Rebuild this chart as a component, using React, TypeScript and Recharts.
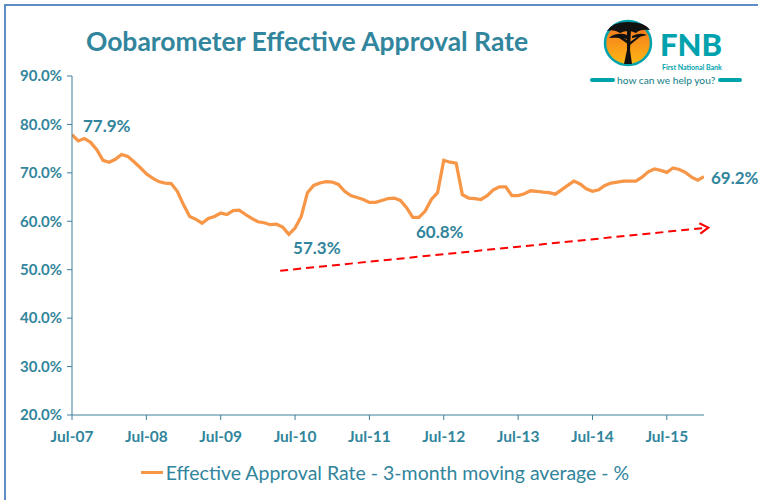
import React from 'react';
import { LineChart, Line, XAxis, YAxis, ReferenceLine, Legend, LabelList } from 'recharts';

const START_YEAR = 2007;
const START_MONTH = 6; // July, 0-based
const MONTH_NAMES = ['Jan', 'Feb', 'Mar', 'Apr', 'May', 'Jun', 'Jul', 'Aug', 'Sep', 'Oct', 'Nov', 'Dec'];

// Effective approval rate, 3-month moving average, %, Jul-07 .. Jan-16
const approvalRate = [
  77.9, 76.6, 77.1, 76.3, 74.8, 72.6, 72.2, 72.8, 73.8, 73.4, 72.3, 71.1,
  69.8, 68.9, 68.2, 67.9, 67.8, 66.2, 63.4, 61.0, 60.4, 59.6, 60.6, 61.0,
  61.7, 61.4, 62.2, 62.3, 61.4, 60.6, 59.9, 59.7, 59.3, 59.4, 58.8, 57.3,
  58.6, 61.0, 65.9, 67.4, 67.9, 68.2, 68.1, 67.6, 66.2, 65.3, 64.9, 64.5,
  63.9, 63.9, 64.3, 64.7, 64.8, 64.3, 62.8, 60.8, 60.8, 62.1, 64.5, 65.9,
  72.6, 72.2, 72.0, 65.5, 64.8, 64.7, 64.5, 65.3, 66.5, 67.1, 67.1, 65.3,
  65.3, 65.7, 66.3, 66.2, 66.0, 65.9, 65.6, 66.5, 67.4, 68.3, 67.7, 66.7,
  66.2, 66.5, 67.4, 67.9, 68.1, 68.3, 68.3, 68.3, 69.1, 70.2, 70.8, 70.5,
  70.1, 71.0, 70.7, 70.1, 69.1, 68.5, 69.2,
];

const months = approvalRate.map((_, i) => {
  const m = START_MONTH + i;
  const y = START_YEAR + Math.floor(m / 12);
  return `${MONTH_NAMES[m % 12]}-${String(y % 100).padStart(2, '0')}`;
});

const yTicks = [20, 30, 40, 50, 60, 70, 80, 90];
const xTickIndices = [0, 12, 24, 36, 48, 60, 72, 84, 96];
const labelledPoints = [0, 35, 55, 102];
const trendArrow = [{ x: 33.6, y: 49.8 }, { x: 102.7, y: 58.7 }];
const seriesName = 'Effective Approval Rate - 3-month moving average - %';
const title = 'Oobarometer Effective Approval Rate';

const data = approvalRate.map((v, i) => ({ idx: i, month: months[i], rate: v }));

const TEAL = '#31859C';
const AXIS = '#3F7F9A';
const ORANGE = '#F79646';
const LOGO_TEAL = '#00A3AD';
const FONT = 'Lato, "Noto Sans", sans-serif';

const labelStyle: Record<number, { dx: number; dy: number; anchor: 'start' | 'middle' }> = {
  0: { dx: 11, dy: -9, anchor: 'start' },
  35: { dx: 28, dy: 13, anchor: 'middle' },
  55: { dx: 27, dy: 14, anchor: 'middle' },
  102: { dx: 7, dy: 1, anchor: 'start' },
};

const PointLabel = (props: any) => {
  const { x, y, value, index } = props;
  if (!labelledPoints.includes(index)) return null;
  const s = labelStyle[index];
  return (
    <text
      x={x + s.dx}
      y={y + s.dy}
      textAnchor={s.anchor}
      dominantBaseline="central"
      fill={TEAL}
      fontFamily={FONT}
      fontWeight={700}
      fontSize={17}
    >
      {`${Number(value).toFixed(1)}%`}
    </text>
  );
};

const ArrowShape = (p: any) => {
  const { x1, y1, x2, y2 } = p;
  if ([x1, y1, x2, y2].some((v) => v == null || isNaN(v))) return null;
  const ang = Math.atan2(y2 - y1, x2 - x1);
  const L = 10;
  const a = 0.55;
  const ax = x2 - L * Math.cos(ang - a);
  const ay = y2 - L * Math.sin(ang - a);
  const bx = x2 - L * Math.cos(ang + a);
  const by = y2 - L * Math.sin(ang + a);
  return (
    <g>
      <line x1={x1} y1={y1} x2={x2} y2={y2} stroke="#FF0000" strokeWidth={2} strokeDasharray="8 5" />
      <polyline points={`${ax},${ay} ${x2},${y2} ${bx},${by}`} fill="none" stroke="#FF0000" strokeWidth={2} />
    </g>
  );
};

const LegendContent = () => (
  <div
    style={{
      display: 'flex',
      justifyContent: 'center',
      alignItems: 'center',
      height: 24,
      paddingLeft: 12,
      fontFamily: FONT,
      fontSize: 19.5,
      color: TEAL,
    }}
  >
    <span style={{ display: 'inline-block', width: 22, height: 3, background: ORANGE, marginRight: 3 }} />
    <span>{seriesName}</span>
  </div>
);

const Logo = () => (
  <svg width={170} height={95} style={{ position: 'absolute', left: 588, top: 0 }} viewBox="588 0 170 95">
    <defs>
      <linearGradient id="sun" x1="0" y1="0" x2="0" y2="1">
        <stop offset="0%" stopColor="#F37021" />
        <stop offset="100%" stopColor="#FDB913" />
      </linearGradient>
    </defs>
    <ellipse cx={628} cy={43} rx={23} ry={22} fill="url(#sun)" stroke={LOGO_TEAL} strokeWidth={2.5} />
    <path d="M607 31 Q612 22 628 22 Q645 22 650 30 Q640 29 636 33 Q628 29 620 33 Q614 29 607 31 Z" fill="#111" />
    <path d="M609 38 Q614 33 624 34 Q630 35 627 39 Q618 37 609 38 Z" fill="#111" />
    <path d="M632 36 Q640 32 647 35 Q640 37 632 38 Z" fill="#111" />
    <path d="M627 30 L631 30 L630 50 L632 64 L624 64 L627 50 Z" fill="#111" />
    <path d="M628 44 L616 36 L618 35 L629 41 Z" fill="#111" />
    <path d="M630 42 L640 35 L641 36 L630 45 Z" fill="#111" />
    <text x={660} y={56} fontFamily={FONT} fontWeight={900} fontSize={31} fill={LOGO_TEAL}>FNB</text>
    <text x={662} y={69.5} fontFamily={FONT} fontWeight={700} fontSize={7} fill={LOGO_TEAL}>First National Bank</text>
    <rect x={590} y={78} width={25} height={4} rx={2} fill={LOGO_TEAL} />
    <text x={617} y={83.5} fontFamily={FONT} fontSize={10.2} fill="#0E7C86">how can we help you?</text>
    <rect x={718} y={78} width={24} height={4} rx={2} fill={LOGO_TEAL} />
  </svg>
);

export default function App() {
  return (
    <div style={{ position: 'absolute', left: 0, top: 0, width: 758, height: 500, background: '#fff', overflow: 'hidden' }}>
      <div
        style={{
          position: 'absolute',
          left: 4,
          top: 4,
          width: 800,
          height: 600,
          borderLeft: '2px solid #5D8CC8',
          borderTop: '2px solid #5D8CC8',
        }}
      />
      <div
        style={{
          position: 'absolute',
          left: 0,
          width: 614,
          top: 25,
          textAlign: 'center',
          fontFamily: FONT,
          fontWeight: 700,
          fontSize: 26.5,
          color: TEAL,
        }}
      >
        {title}
      </div>
      <Logo />
      <div style={{ position: 'absolute', left: 0, top: 0 }}>
        <LineChart width={758} height={500} data={data} margin={{ top: 76, right: 54, left: 0, bottom: 31 }}>
          <XAxis
            dataKey="idx"
            type="number"
            domain={[0, 102]}
            ticks={xTickIndices}
            tickFormatter={(v: number) => months[v]}
            height={30}
            stroke={AXIS}
            tickSize={5}
            tickMargin={11}
            tick={{ fill: TEAL, fontFamily: FONT, fontWeight: 700, fontSize: 15.5 }}
            allowDataOverflow
          />
          <YAxis
            type="number"
            domain={[20, 90]}
            ticks={yTicks}
            tickFormatter={(v: number) => `${v.toFixed(1)}%`}
            width={72}
            stroke={AXIS}
            tickSize={5}
            tickMargin={5}
            tick={{ fill: TEAL, fontFamily: FONT, fontWeight: 700, fontSize: 15 }}
          />
          <ReferenceLine segment={trendArrow} ifOverflow="visible" shape={ArrowShape} />
          <Line
            type="linear"
            dataKey="rate"
            name={seriesName}
            stroke={ORANGE}
            strokeWidth={3.25}
            dot={false}
            isAnimationActive={false}
          >
            <LabelList dataKey="rate" content={PointLabel} />
          </Line>
          <Legend
            verticalAlign="bottom"
            content={LegendContent}
            wrapperStyle={{ position: 'absolute', left: 0, top: 460, width: 758, height: 24 }}
          />
        </LineChart>
      </div>
    </div>
  );
}
